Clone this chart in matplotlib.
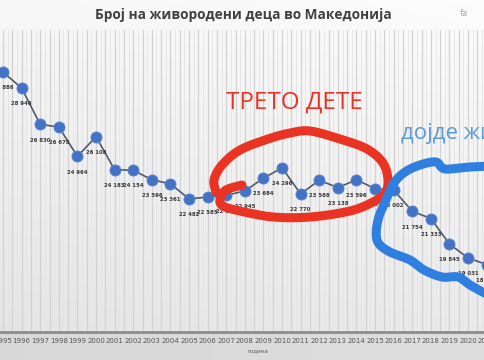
import numpy as np
import matplotlib
matplotlib.use("Agg")
import matplotlib.pyplot as plt

years = list(range(1995, 2022))
births = [29886, 28946, 26830, 26678, 24964, 26108, 24183, 24154, 23596, 23361,
          22482, 22585, 22688, 22945, 23684, 24296, 22770, 23568, 23138, 23596,
          23075, 23002, 21754, 21333, 19845, 19031, 18648]
point_labels = ["29 886", "28 946", "26 830", "26 678", "24 964", "26 108", "24 183",
                "24 154", "23 596", "23 361", "22 482", "22 585", "22 688", "22 945",
                "23 684", "24 296", "22 770", "23 568", "23 138", "23 596", "23 075",
                "23 002", "21 754", "21 333", "19 845", "19 031", "18 648"]
title = "Број на живородени деца во Македонија"
xlabel = "година"
red_note = "ТРЕТО ДЕТЕ"
blue_note = "дојде жи"

W, H = 485, 360
fig = plt.figure(figsize=(W / 100, H / 100), dpi=100)

# background gradient
bg = fig.add_axes([0, 0, 1, 1], zorder=-5)
top = np.array([0.97, 0.97, 0.97])
mid = np.array([0.90, 0.90, 0.90])
low = np.array([0.85, 0.85, 0.85])
grad = np.zeros((360, 485, 3))
for i in range(360):
    t = i / 332
    grad[i, :, :] = top * (1 - t) + mid * t if i <= 332 else low
xs = np.linspace(0, 1, 485)[None, :, None]
grad = np.clip(grad + 0.02 * xs, 0, 1)
bg.imshow(grad, extent=[0, W, H, 0], aspect='auto')
bg.set_xlim(0, W)
bg.set_ylim(H, 0)
bg.axis('off')

# main axes
left_px, right_px = -6.3, 496.0
top_px, bot_px = 30.0, 332.0
ax = fig.add_axes([left_px / W, 1 - bot_px / H, (right_px - left_px) / W, (bot_px - top_px) / H])
ax.set_facecolor('none')
ax.set_xlim(1994.5, 2021.5)
ax.set_ylim(14712, 32337)

for x in np.arange(1994.5, 2021.6, 0.5):
    ax.axvline(x, color='#d2d2d2', lw=0.9, zorder=0)
for x in np.arange(1994.75, 2021.6, 0.5):
    ax.axvline(x, color='#e4e4e4', lw=0.6, zorder=0)

ax.plot(years, births, color='#4f5b6b', lw=1.2, zorder=2,
        marker='o', markersize=8, markerfacecolor='#4472c4',
        markeredgecolor='#5b86cf', markeredgewidth=0.6)
for x, v, lab in zip(years, births, point_labels):
    ax.annotate(lab, (x, v), xytext=(0, -9.5), textcoords='offset points',
                ha='center', va='top', fontsize=3.9, fontweight='bold',
                color='#3a3a3a', zorder=3)

for s in ['top', 'right', 'left']:
    ax.spines[s].set_visible(False)
ax.spines['bottom'].set_color('#8c8c8c')
ax.spines['bottom'].set_linewidth(2)
ax.set_yticks([])
ax.set_xticks(years)
ax.set_xticklabels([str(y) for y in years], fontsize=5, color='#555555')
ax.tick_params(axis='x', length=0, pad=4)
ax.set_xlabel(xlabel, fontsize=4, color='#555555')
ax.xaxis.set_label_coords((258 - left_px) / (right_px - left_px), -0.055)

# overlay for hand-drawn annotations (pixel coords)
ov = fig.add_axes([0, 0, 1, 1], zorder=5)
ov.set_xlim(0, W)
ov.set_ylim(H, 0)
ov.axis('off')
ov.patch.set_alpha(0)


def catmull(pts, n=20):
    p = np.asarray(pts, float)
    p = np.vstack([p[0], p, p[-1]])
    out = []
    for i in range(1, len(p) - 2):
        p0, p1, p2, p3 = p[i - 1], p[i], p[i + 1], p[i + 2]
        for t in np.linspace(0, 1, n, endpoint=False):
            t2, t3 = t * t, t * t * t
            out.append(0.5 * ((2 * p1) + (-p0 + p2) * t + (2 * p0 - 5 * p1 + 4 * p2 - p3) * t2
                              + (-p0 + 3 * p1 - 3 * p2 + p3) * t3))
    out.append(p[-2])
    return np.array(out)

red = '#ea3323'
red_path = catmull([(242, 185), (226, 190), (220, 199), (223, 206), (240, 211), (273, 217),
                    (310, 217), (350, 211), (373, 202), (385, 193), (388, 180), (383, 163),
                    (367, 149), (340, 139), (310, 131), (290, 133), (268, 139), (240, 150),
                    (222, 165), (214, 180), (216, 192)])
ov.plot(red_path[:, 0], red_path[:, 1], color=red, lw=6.5, solid_capstyle='round',
        solid_joinstyle='round')

blue = '#2f7fe0'
blue_path = catmull([(492, 166), (470, 167), (445, 169), (436, 162), (420, 165), (405, 172),
                     (394, 183), (386, 200), (378, 220), (377, 240), (388, 251), (410, 260),
                     (424, 270), (442, 277), (458, 277), (470, 285), (490, 296)])
ov.plot(blue_path[:, 0], blue_path[:, 1], color=blue, lw=6.5, solid_capstyle='round',
        solid_joinstyle='round')

ov.text(294, 103, red_note, color=red, fontsize=17.5, ha='center', va='center',
        family='Open Sans')
ov.text(401, 133, blue_note, color='#5b9bd5', fontsize=16, ha='left', va='center',
        family='Open Sans')

fig.text(243 / W, 1 - 15 / H, title, ha='center', va='center', fontsize=9.8,
         fontweight='bold', color='#404040', family='Open Sans')
fig.text(460 / W, 1 - 14 / H, "fa", ha='left', va='center', fontsize=6.5,
         color='#8fa8c0', family='Open Sans')

fig.savefig('out.png', dpi=100)
